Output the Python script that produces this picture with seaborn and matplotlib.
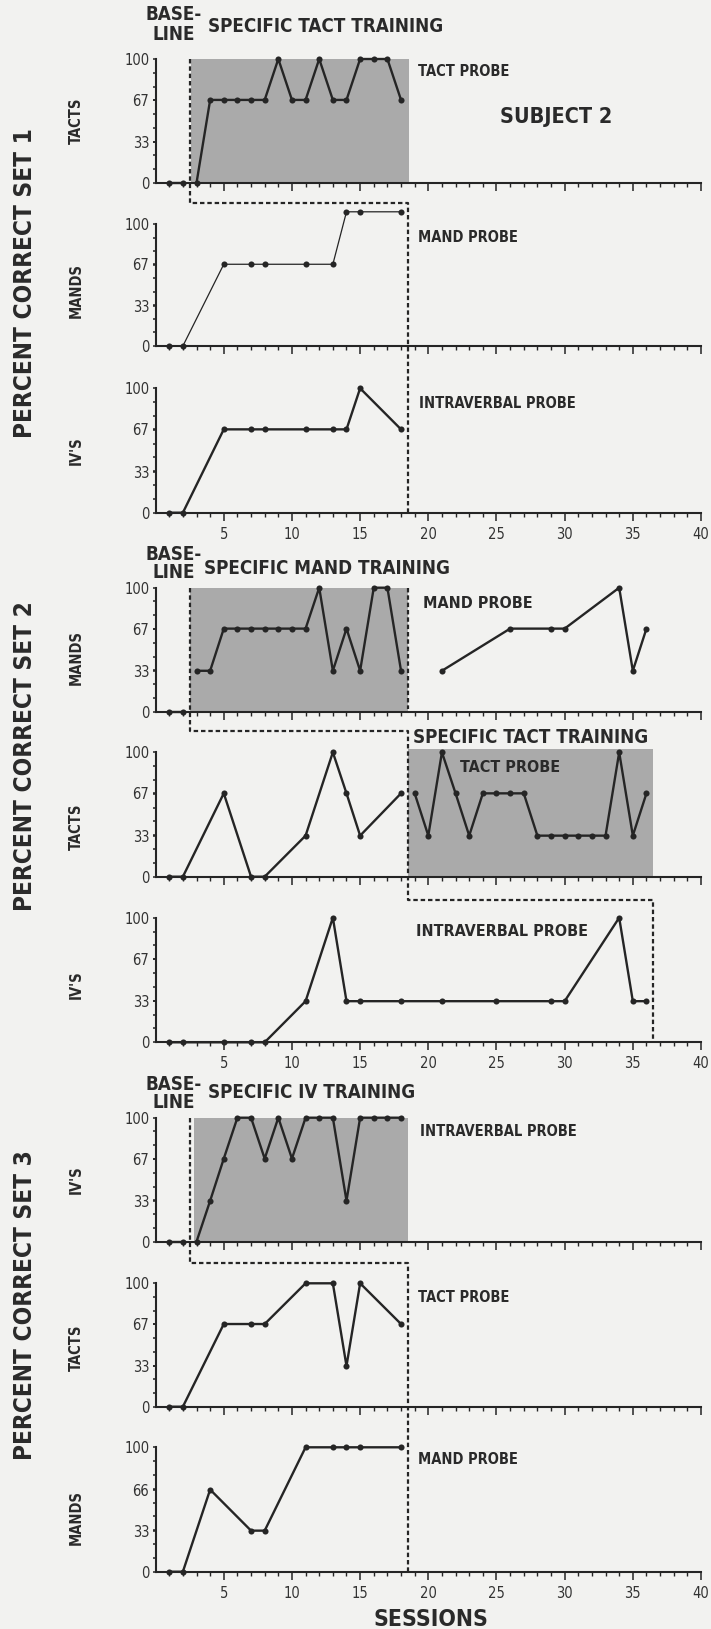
import numpy as np
import pandas as pd
import matplotlib
matplotlib.use("Agg")
import matplotlib.pyplot as plt
import seaborn as sns
from matplotlib import font_manager as fm
from matplotlib.lines import Line2D
from matplotlib.ticker import FixedLocator

# ---------------- data ----------------
# Set 1 (specific tact training)
tacts1_x = list(range(1, 19))
tacts1_y = [0, 0, 0, 67, 67, 67, 67, 67, 100, 67, 67, 100, 67, 67, 100, 100, 100, 67]
tacts1_phase = ["B"] * 2 + ["T"] * 16

mands1_x = [1, 2, 5, 7, 8, 11, 13, 14, 15, 18]
mands1_y = [0, 0, 67, 67, 67, 67, 67, 110, 110, 110]
mands1_phase = ["P"] * 10

ivs1_x = [1, 2, 5, 7, 8, 11, 13, 14, 15, 18]
ivs1_y = [0, 0, 67, 67, 67, 67, 67, 67, 100, 67]
ivs1_phase = ["P"] * 10

# Set 2 (specific mand training, then specific tact training)
mands2_x = list(range(1, 19)) + [21, 26, 29, 30, 34, 35, 36]
mands2_y = [0, 0, 33, 33, 67, 67, 67, 67, 67, 67, 67, 100, 33, 67, 33, 100, 100, 33,
            33, 67, 67, 67, 100, 33, 67]
mands2_phase = ["B"] * 2 + ["T"] * 16 + ["P"] * 7

tacts2_x = [1, 2, 5, 7, 8, 11, 13, 14, 15, 18] + list(range(19, 37))
tacts2_y = [0, 0, 67, 0, 0, 33, 100, 67, 33, 67,
            67, 33, 100, 67, 33, 67, 67, 67, 67, 33, 33, 33, 33, 33, 33, 100, 33, 67]
tacts2_phase = ["P"] * 10 + ["T"] * 18

ivs2_x = [1, 2, 5, 7, 8, 11, 13, 14, 15, 18, 21, 25, 29, 30, 34, 35, 36]
ivs2_y = [0, 0, 0, 0, 0, 33, 100, 33, 33, 33, 33, 33, 33, 33, 100, 33, 33]
ivs2_phase = ["P"] * 17

# Set 3 (specific IV training)
ivs3_x = list(range(1, 19))
ivs3_y = [0, 0, 0, 33, 67, 100, 100, 67, 100, 67, 100, 100, 100, 33, 100, 100, 100, 100]
ivs3_phase = ["B"] * 2 + ["T"] * 16

tacts3_x = [1, 2, 5, 7, 8, 11, 13, 14, 15, 18]
tacts3_y = [0, 0, 67, 67, 67, 100, 100, 33, 100, 67]
tacts3_phase = ["P"] * 10

mands3_x = [1, 2, 4, 7, 8, 11, 13, 14, 15, 18]
mands3_y = [0, 0, 66, 33, 33, 100, 100, 100, 100, 100]
mands3_phase = ["P"] * 10

ytick_vals = [0, 33, 67, 100]
ytick_vals_last = [0, 33, 66, 100]
xtick_vals = [5, 10, 15, 20, 25, 30, 35, 40]

# ---------------- style ----------------
sns.set_theme(style="white")
avail = {f.name for f in fm.fontManager.ttflist}
if "Liberation Sans Narrow" in avail:
    NARROW = ["Liberation Sans Narrow", "DejaVu Sans"]
    NSTRETCH = "normal"
else:
    NARROW = ["DejaVu Sans"]
    NSTRETCH = "condensed"
plt.rcParams["font.family"] = NARROW

BG = "#f2f2f0"
INK = "#252525"
SHADE = "#aaaaaa"

W, H = 711, 1629
fig = plt.figure(figsize=(W / 100, H / 100), dpi=100, facecolor=BG)

YMIN, YMAX = -6, 118
X0PX, X40PX = 155.6, 701.0


def make_ax(p100, p0):
    sc = (p0 - p100) / 100.0
    top = p100 - (YMAX - 100) * sc
    bot = p0 + (-YMIN) * sc
    ax = fig.add_axes([X0PX / W, 1 - bot / H, (X40PX - X0PX) / W, (bot - top) / H])
    ax.set_facecolor("none")
    ax.set_xlim(0, 40)
    ax.set_ylim(YMIN, YMAX)
    for s in ["top", "right"]:
        ax.spines[s].set_visible(False)
    ax.spines["left"].set_bounds(0, 100)
    ax.spines["bottom"].set_position(("data", 0))
    ax.spines["bottom"].set_bounds(0, 40)
    for s in ["left", "bottom"]:
        ax.spines[s].set_linewidth(1.5)
        ax.spines[s].set_color(INK)
    return ax


def style_ax(ax, yticks, show_x):
    ax.yaxis.set_major_locator(FixedLocator(yticks))
    ax.set_yticklabels([str(v) for v in yticks])
    ax.yaxis.set_minor_locator(FixedLocator(np.arange(0, 100.1, 100 / 9)))
    ax.xaxis.set_major_locator(FixedLocator(xtick_vals))
    ax.xaxis.set_minor_locator(FixedLocator(np.arange(1, 41, 1)))
    if show_x:
        ax.set_xticklabels([str(v) for v in xtick_vals])
    else:
        ax.set_xticklabels([])
    ax.tick_params(axis="y", which="both", direction="out", length=2.5, width=1.1,
                   color=INK, labelsize=10.5, labelcolor="#333333", pad=2, left=True)
    ax.tick_params(axis="x", which="major", direction="out", length=6, width=1.1,
                   color=INK, labelsize=10.5, labelcolor="#333333", pad=4, bottom=True)
    ax.tick_params(axis="x", which="minor", direction="out", length=3.2, width=1.0,
                   color=INK, bottom=True)
    for lab in ax.get_xticklabels() + ax.get_yticklabels():
        lab.set_fontstretch(NSTRETCH)
    ax.set_xlabel("")
    ax.set_ylabel("")
    ax.grid(False)


def plot_series(ax, xs, ys, phase, lw=1.7):
    df = pd.DataFrame({"session": xs, "value": ys, "phase": phase})
    sns.lineplot(data=df, x="session", y="value", units="phase", estimator=None,
                 sort=False, color=INK, linewidth=lw, marker="o", markersize=4.4,
                 markeredgewidth=0, ax=ax, legend=False)


panels = [
    (59, 183), (224, 346), (388.3, 512.7),
    (587.7, 711.7), (752.3, 876.7), (917.7, 1042.3),
    (1117.7, 1241.7), (1283.3, 1406.7), (1447.3, 1571.7),
]
axes = [make_ax(a, b) for a, b in panels]
ax1, ax2, ax3, ax4, ax5, ax6, ax7, ax8, ax9 = axes

# shaded training areas
ax1.fill_between([2.6, 18.6], 0, 100, color=SHADE, lw=0, zorder=0)
ax4.fill_between([2.5, 18.5], 0, 100, color=SHADE, lw=0, zorder=0)
ax5.fill_between([18.5, 36.5], 0, 103, color=SHADE, lw=0, zorder=0)
ax7.fill_between([2.8, 18.5], 0, 100, color=SHADE, lw=0, zorder=0)

plot_series(ax1, tacts1_x, tacts1_y, tacts1_phase)
plot_series(ax2, mands1_x, mands1_y, mands1_phase, lw=0.9)
plot_series(ax3, ivs1_x, ivs1_y, ivs1_phase)
plot_series(ax4, mands2_x, mands2_y, mands2_phase)
plot_series(ax5, tacts2_x, tacts2_y, tacts2_phase)
plot_series(ax6, ivs2_x, ivs2_y, ivs2_phase)
plot_series(ax7, ivs3_x, ivs3_y, ivs3_phase)
plot_series(ax8, tacts3_x, tacts3_y, tacts3_phase)
plot_series(ax9, mands3_x, mands3_y, mands3_phase)

for i, ax in enumerate(axes):
    yt = ytick_vals_last if i == 8 else ytick_vals
    style_ax(ax, yt, show_x=(i in (2, 5, 8)))

# ---------------- phase-change lines ----------------
inv = fig.transFigure.inverted()


def dpt(ax, x, y):
    return inv.transform(ax.transData.transform((x, y)))


def xpx(ax, x, ypx):
    fx = inv.transform(ax.transData.transform((x, 0)))[0]
    return np.array([fx, 1 - ypx / H])


def dashed(points):
    pts = np.array(points)
    fig.add_artist(Line2D(pts[:, 0], pts[:, 1], transform=fig.transFigure,
                          color=INK, lw=1.6, linestyle=(0, (2.0, 1.3)), zorder=5))


dashed([dpt(ax1, 2.5, 100), xpx(ax1, 2.5, 203), xpx(ax1, 18.5, 203), dpt(ax3, 18.5, 0)])
dashed([dpt(ax4, 2.5, 100), xpx(ax4, 2.5, 731), xpx(ax4, 18.5, 731),
        xpx(ax4, 18.5, 900), xpx(ax4, 36.5, 900), dpt(ax6, 36.5, 3)])
dashed([dpt(ax4, 18.5, 100), dpt(ax4, 18.5, 2)])
dashed([dpt(ax7, 2.5, 100), xpx(ax7, 2.5, 1263), xpx(ax7, 18.5, 1263), dpt(ax9, 18.5, 0)])

# ---------------- texts ----------------
def T(x, y, s, size=10, ha="left", va="center", rot=0, weight="bold", color="#2a2a2a"):
    fig.text(x / W, 1 - y / H, s, fontsize=size, ha=ha, va=va, rotation=rot,
             fontweight=weight, color=color, fontstretch=NSTRETCH, family=NARROW)


# phase titles
for base_y, line_y, title, tx, ty in [
    (15, 34, "SPECIFIC TACT TRAINING", 208, 26),
    (555, 573, "SPECIFIC MAND TRAINING", 204, 568),
    (1085, 1103, "SPECIFIC IV TRAINING", 208, 1093),
]:
    T(174, base_y, "BASE-", size=13.5, ha="center")
    T(174, line_y, "LINE", size=13.5, ha="center")
    T(tx, ty, title, size=13.5)
T(413, 737, "SPECIFIC TACT TRAINING", size=13.5)

# probe labels
T(418, 72, "TACT PROBE", size=10.5)
T(418, 238, "MAND PROBE", size=10.5)
T(419, 403, "INTRAVERBAL PROBE", size=10.5)
T(423, 604, "MAND PROBE", size=11.5)
T(460, 767, "TACT PROBE", size=11.5)
T(416, 931, "INTRAVERBAL PROBE", size=11.5)
T(420, 1132, "INTRAVERBAL PROBE", size=10.5)
T(418, 1297, "TACT PROBE", size=10.5)
T(418, 1460, "MAND PROBE", size=10.5)

T(500, 117, "SUBJECT 2", size=15.5)
T(431, 1619, "SESSIONS", size=16.5, ha="center")

# left side labels
T(25, 283, "PERCENT CORRECT SET 1", size=17.5, ha="center", rot=90)
T(25, 756, "PERCENT CORRECT SET 2", size=17.5, ha="center", rot=90)
T(25, 1305, "PERCENT CORRECT SET 3", size=17.5, ha="center", rot=90)

side = ["TACTS", "MANDS", "IV'S", "MANDS", "TACTS", "IV'S", "IV'S", "TACTS", "MANDS"]
offs = [0, 6, 0, 8, 12, 5, 0, 3, 8]
for (p100, p0), lab, o in zip(panels, side, offs):
    T(76, (p100 + p0) / 2 + o, lab, size=10.5, ha="center", rot=90)

fig.savefig("out.png", dpi=100, facecolor=BG)
